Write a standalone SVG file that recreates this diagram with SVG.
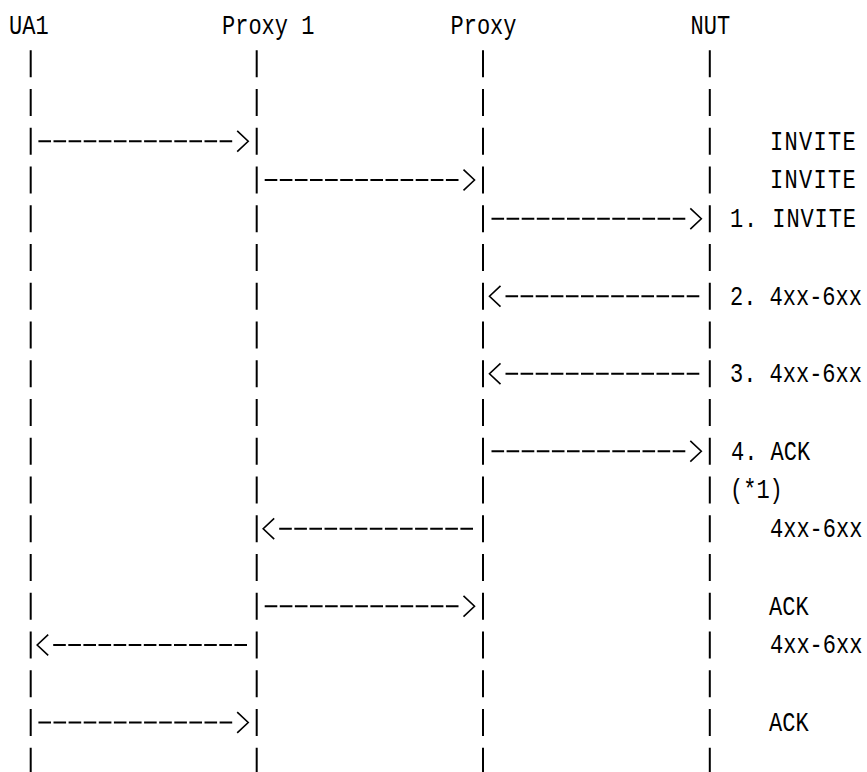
<svg xmlns="http://www.w3.org/2000/svg" width="867" height="772" viewBox="0 0 867 772">
  <style>
    text { font-family: "Liberation Mono", "DejaVu Sans Mono", monospace; font-size: 22px; fill: #000; }
    .life { stroke: #000; stroke-width: 2; stroke-dasharray: 27 11.75; fill: none; }
    .msg { stroke: #000; stroke-width: 2; stroke-dasharray: 12.6 2.5; fill: none; marker-end: url(#chev); }
    .wide { letter-spacing: 1.3px; }
    .mid { letter-spacing: 0.9px; }
  </style>
  <defs>
    <marker id="chev" markerUnits="userSpaceOnUse" orient="auto" refX="0" refY="0" markerWidth="24" markerHeight="26" viewBox="-2 -13 24 26" overflow="visible">
      <polyline points="5,-10.3 16,0 5,10.3" fill="none" stroke="#000" stroke-width="1.6"/>
    </marker>
  </defs>
  <rect x="0" y="0" width="867" height="772" fill="#fff"/>

  <g id="node-ua1">
    <text x="9" y="27.2" transform="scale(1 1.25)">UA1</text>
    <line class="life" x1="30.7" y1="50.25" x2="30.7" y2="772"/>
  </g>
  <g id="node-proxy1">
    <text x="222" y="27.2" transform="scale(1 1.25)">Proxy 1</text>
    <line class="life" x1="256.7" y1="50.25" x2="256.7" y2="772"/>
  </g>
  <g id="node-proxy">
    <text x="450.5" y="27.2" transform="scale(1 1.25)">Proxy</text>
    <line class="life" x1="483" y1="50.25" x2="483" y2="772"/>
  </g>
  <g id="node-nut">
    <text x="690.5" y="27.2" transform="scale(1 1.25)">NUT</text>
    <line class="life" x1="709.8" y1="50.25" x2="709.8" y2="772"/>
  </g>

  <g id="connectors">
    <path class="msg" d="M38.4,141.25 H232.2"/>
    <path class="msg" d="M264.7,180 H458.5"/>
    <path class="msg" d="M491.5,218.75 H685.3"/>
    <path class="msg" d="M699.3,296.25 H505.5"/>
    <path class="msg" d="M699.3,373.75 H505.5"/>
    <path class="msg" d="M491.5,451.25 H685.3"/>
    <path class="msg" d="M473,528.75 H279.2"/>
    <path class="msg" d="M264.7,606.25 H458.5"/>
    <path class="msg" d="M247,645 H53.2"/>
    <path class="msg" d="M38.4,722.5 H232.2"/>
  </g>

  <g id="labels">
    <text class="wide" x="770" y="119.8" transform="scale(1 1.25)">INVITE</text>
    <text class="wide" x="770" y="150.8" transform="scale(1 1.25)">INVITE</text>
    <text class="mid" x="730" y="181.8" transform="scale(1 1.25)">1. INVITE</text>
    <text x="730" y="243.8" transform="scale(1 1.25)">2. 4xx-6xx</text>
    <text x="730" y="305.8" transform="scale(1 1.25)">3. 4xx-6xx</text>
    <text x="731" y="367.8" transform="scale(1 1.25)">4. ACK</text>
    <text x="730" y="398.8" transform="scale(1 1.25)">(*1)</text>
    <text x="770" y="429.8" transform="scale(1 1.25)">4xx-6xx</text>
    <text x="769" y="491.8" transform="scale(1 1.25)">ACK</text>
    <text x="770" y="522.8" transform="scale(1 1.25)">4xx-6xx</text>
    <text x="769" y="584.8" transform="scale(1 1.25)">ACK</text>
  </g>
</svg>
